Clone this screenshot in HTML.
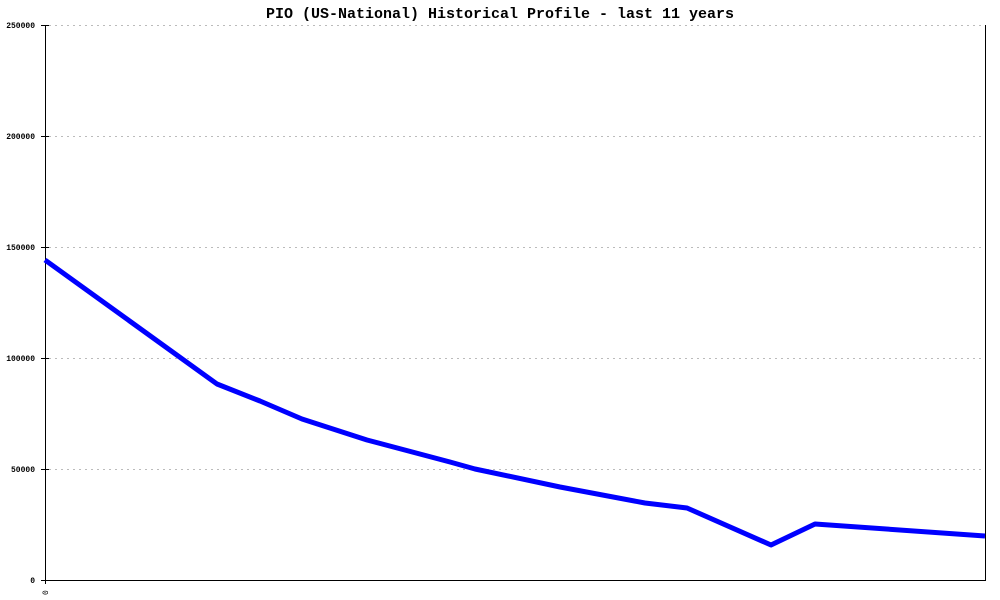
<!DOCTYPE html>
<html><head><style>body{margin:0;background:#fff}svg{display:block}</style></head><body>
<svg width="1000" height="600" xmlns="http://www.w3.org/2000/svg" font-family="Liberation Mono, monospace">
<rect width="1000" height="600" fill="#fff"/>
<text x="500" y="18" text-anchor="middle" font-size="15" font-weight="bold" font-family="Liberation Mono, monospace">PIO (US-National) Historical Profile - last 11 years</text>
<g stroke="#bbb" stroke-dasharray="2,4" stroke-width="1">
<line x1="49" y1="25.5" x2="985" y2="25.5"/>
<line x1="49" y1="136.5" x2="985" y2="136.5"/>
<line x1="49" y1="247.5" x2="985" y2="247.5"/>
<line x1="49" y1="358.5" x2="985" y2="358.5"/>
<line x1="49" y1="469.5" x2="985" y2="469.5"/>
</g>
<g stroke="#000" stroke-width="1">
<line x1="45.5" y1="25" x2="45.5" y2="584"/>
<line x1="41" y1="580.5" x2="986" y2="580.5"/>
<line x1="985.5" y1="25" x2="985.5" y2="580"/>
<line x1="41" y1="25.5" x2="49" y2="25.5"/>
<line x1="41" y1="136.5" x2="49" y2="136.5"/>
<line x1="41" y1="247.5" x2="49" y2="247.5"/>
<line x1="41" y1="358.5" x2="49" y2="358.5"/>
<line x1="41" y1="469.5" x2="49" y2="469.5"/>
</g>
<g font-size="8" text-anchor="end" font-weight="bold">
<text x="35" y="28">250000</text>
<text x="35" y="139">200000</text>
<text x="35" y="250">150000</text>
<text x="35" y="361">100000</text>
<text x="35" y="472">50000</text>
<text x="35" y="583">0</text>
</g>
<text x="0" y="0" font-size="8" transform="translate(48,595) rotate(-90)">0</text>
<polyline fill="none" stroke="#0000ff" stroke-width="5" stroke-linejoin="round" points="45,260 217,384 260,401 302,419 367,440 450,462 475,469 560,487 645,503 687,508 771,545 815,524 985,536"/>
</svg>
</body></html>
